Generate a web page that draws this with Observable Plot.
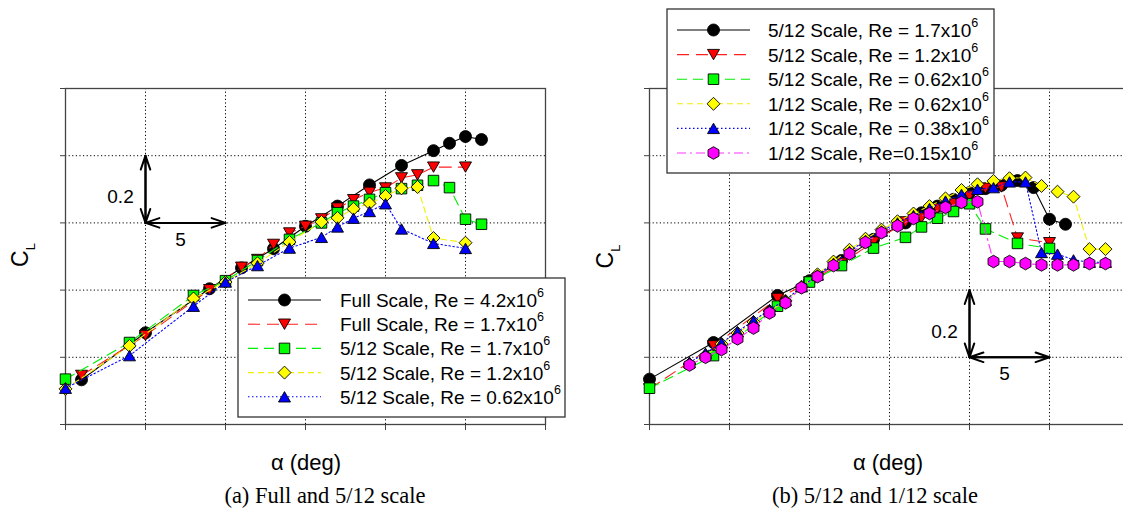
<!DOCTYPE html>
<html>
<head>
<meta charset="utf-8">
<script src="https://cdn.jsdelivr.net/npm/d3@7"></script>
<script src="https://cdn.jsdelivr.net/npm/@observablehq/plot@0.6"></script>
<style>
  html, body { margin: 0; padding: 0; background: #fff; overflow: hidden; }
  #wrap { position: relative; width: 1123px; height: 516px; overflow: hidden; background: #fff; }
  #wrap svg { position: absolute; top: 0; }
</style>
</head>
<body>
<div id="wrap"></div>
<script>
// Lift coefficient C_L against angle of attack α (deg)

// Full scale, Re = 4.2x10^6
const alphaFull42 = [-4, 0, 4, 6, 8, 10, 12, 14, 16, 18, 19, 20, 21];
const clFull42    = [0.133, 0.273, 0.404, 0.466, 0.523, 0.590, 0.650, 0.713, 0.771, 0.815, 0.837, 0.857, 0.848];

// Full scale, Re = 1.7x10^6
const alphaFull17 = [-4, 0, 4, 6, 7, 8, 9, 10, 11, 12, 13, 14, 15, 16, 17, 18, 20];
const clFull17    = [0.146, 0.265, 0.401, 0.468, 0.491, 0.536, 0.570, 0.590, 0.612, 0.644, 0.669, 0.691, 0.704, 0.734, 0.743, 0.766, 0.766];

// 5/12 scale, Re = 1.7x10^6
const alpha512_17 = [-5, -1, 3, 5, 7, 9, 11, 12, 13, 14, 15, 16, 17, 18, 19, 20, 21];
const cl512_17    = [0.135, 0.244, 0.384, 0.428, 0.488, 0.551, 0.600, 0.630, 0.650, 0.670, 0.690, 0.702, 0.712, 0.726, 0.705, 0.611, 0.596];

// 5/12 scale, Re = 1.2x10^6
const alpha512_12 = [-5, -1, 3, 5, 7, 9, 11, 12, 13, 14, 15, 16, 17, 18, 20];
const cl512_12    = [0.106, 0.234, 0.375, 0.424, 0.480, 0.543, 0.603, 0.615, 0.642, 0.658, 0.680, 0.703, 0.707, 0.555, 0.541];

// 5/12 scale, Re = 0.62x10^6
const alpha512_062 = [-5, -1, 3, 5, 7, 9, 11, 12, 13, 14, 15, 16, 18, 20];
const cl512_062    = [0.108, 0.205, 0.352, 0.424, 0.473, 0.525, 0.557, 0.588, 0.614, 0.634, 0.657, 0.582, 0.539, 0.524];

// 1/12 scale runs share one α schedule
const alpha112 = [-2.5, -1.5, -0.5, 0.5, 1.5, 2.5, 3.5, 4.5, 5.5, 6.5, 7.5, 8.5, 9.5, 10.5, 11.5, 12.5, 13.5, 14.5, 15.5, 16.5, 17.5, 18.5, 19.5, 20.5, 21.5, 22.5, 23.5];
// 1/12 scale, Re = 0.62x10^6
const cl112_062 = [0.180, 0.205, 0.240, 0.272, 0.305, 0.338, 0.368, 0.410, 0.447, 0.485, 0.520, 0.553, 0.580, 0.605, 0.628, 0.650, 0.673, 0.698, 0.715, 0.725, 0.733, 0.735, 0.710, 0.693, 0.678, 0.522, 0.522];
// 1/12 scale, Re = 0.38x10^6
const cl112_038 = [0.185, 0.212, 0.243, 0.276, 0.309, 0.342, 0.370, 0.410, 0.445, 0.480, 0.515, 0.548, 0.576, 0.600, 0.622, 0.643, 0.665, 0.685, 0.700, 0.705, 0.722, 0.722, 0.512, 0.507, 0.490, 0.483, 0.483];
// 1/12 scale, Re = 0.15x10^6
const cl112_015 = [0.177, 0.200, 0.223, 0.255, 0.287, 0.332, 0.362, 0.407, 0.440, 0.473, 0.508, 0.542, 0.571, 0.591, 0.613, 0.628, 0.646, 0.661, 0.663, 0.485, 0.485, 0.479, 0.475, 0.475, 0.475, 0.479, 0.479];

// Legend texts (mantissa of Re; the exponent 6 is set as a superscript)
const legendLeft = [
  "Full Scale, Re = 4.2x10", "Full Scale, Re = 1.7x10", "5/12 Scale, Re = 1.7x10",
  "5/12 Scale, Re = 1.2x10", "5/12 Scale, Re = 0.62x10"
];
const legendRight = [
  "5/12 Scale, Re = 1.7x10", "5/12 Scale, Re = 1.2x10", "5/12 Scale, Re = 0.62x10",
  "1/12 Scale, Re = 0.62x10", "1/12 Scale, Re = 0.38x10", "1/12 Scale, Re=0.15x10"
];
const reExponent = "6";

// Grid positions (no numeric tick labels: the scale bars give the units)
const alphaTicks = [-5, 0, 5, 10, 15, 20, 25];
const clTicks = [0, 0.2, 0.4, 0.6, 0.8, 1.0];

// Scale bars: corner (α, C_L) and lengths
const barLeft  = {alpha: 0,  cl: 0.6, dAlpha: 5, dCl: 0.2};
const barRight = {alpha: 15, cl: 0.2, dAlpha: 5, dCl: 0.2};

const sans = "'Liberation Sans', Arial, Helvetica, sans-serif";
const serif = "'Liberation Serif', 'Times New Roman', Times, serif";

// Marker shapes; size is π r²
function mkSym(draw) {
  return {draw(ctx, size) { draw(ctx, Math.sqrt(size / Math.PI)); }};
}
const symCircle = mkSym((c, r) => { c.moveTo(r, 0); c.arc(0, 0, r, 0, 2 * Math.PI); });
const symTriDown = mkSym((c, r) => {
  const h = r * Math.sqrt(3) / 2;
  c.moveTo(-r, -h); c.lineTo(r, -h); c.lineTo(0, h); c.closePath();
});
const symTriUp = mkSym((c, r) => {
  const h = r * Math.sqrt(3) / 2;
  c.moveTo(-r, h); c.lineTo(r, h); c.lineTo(0, -h); c.closePath();
});
const symSquare = mkSym((c, r) => { const s = r * 0.88; c.rect(-s, -s, 2 * s, 2 * s); });
const symDiamond = mkSym((c, r) => {
  const d = r * 1.08;
  c.moveTo(0, -d); c.lineTo(d, 0); c.lineTo(0, d); c.lineTo(-d, 0); c.closePath();
});
const symHex = mkSym((c, r) => {
  const R = r * 1.05;
  for (let k = 0; k < 6; k++) {
    const t = (-90 + 60 * k) * Math.PI / 180;
    if (k) c.lineTo(R * Math.cos(t), R * Math.sin(t)); else c.moveTo(R * Math.cos(t), R * Math.sin(t));
  }
  c.closePath();
});

// Line/marker style by position within a panel
const styles = [
  {color: "#000000", line: "#000000", dash: undefined,   sym: symCircle},
  {color: "#ff0000", line: "#ff2020", dash: "12,7",      sym: symTriDown},
  {color: "#00ff00", line: "#00ee00", dash: "10,6",      sym: symSquare},
  {color: "#ffff00", line: "#f0f000", dash: "6,4",       sym: symDiamond},
  {color: "#0000ff", line: "#0000ff", dash: "1.5,2.5",   sym: symTriUp},
  {color: "#ff00ff", line: "#ff33ff", dash: "9,4,2,4",   sym: symHex}
];
const markerR = 6;

function rowsOf(alpha, cl) { return alpha.map((a, i) => ({alpha: a, cl: cl[i]})); }

function panel({series, width, offsetX, marginLeft, marginRight, bar, legend, legendBox, yLabelX, yLabelY, xLabelX, caption, captionX}) {
  const dotted = {stroke: "#000", strokeOpacity: 1, strokeWidth: 1, strokeDasharray: "1.2,2.4"};
  const marks = [
    Plot.gridX(alphaTicks, dotted),
    Plot.gridY(clTicks, dotted),
    Plot.axisX(alphaTicks, {anchor: "bottom", tickSize: 6, tickFormat: () => "", label: null, stroke: "#444"}),
    Plot.axisY(clTicks, {anchor: "left", tickSize: 5, tickFormat: () => "", label: null, stroke: "#444"}),
    Plot.frame({stroke: "#444", strokeWidth: 1.3})
  ];
  series.forEach((s, i) => {
    const st = styles[i];
    const rows = rowsOf(s.alpha, s.cl);
    marks.push(Plot.line(rows, {x: "alpha", y: "cl", stroke: st.line, strokeWidth: 1.1, strokeDasharray: st.dash}));
    marks.push(Plot.dot(rows, {x: "alpha", y: "cl", symbol: st.sym, r: markerR, fill: st.color, stroke: "#000", strokeWidth: 0.9}));
  });
  // double-headed scale-bar arrows
  const a = bar.alpha, c = bar.cl, da = bar.dAlpha, dc = bar.dCl;
  const arrows = [
    {x1: a, y1: c, x2: a, y2: c + dc}, {x1: a, y1: c + dc, x2: a, y2: c},
    {x1: a, y1: c, x2: a + da, y2: c}, {x1: a + da, y1: c, x2: a, y2: c}
  ];
  marks.push(Plot.arrow(arrows, {x1: "x1", y1: "y1", x2: "x2", y2: "y2", stroke: "#000", strokeWidth: 2, headLength: 11, headAngle: 38}));
  marks.push(Plot.text([{x: a, y: c + dc / 2, t: String(dc)}], {x: "x", y: "y", text: "t", dx: -25, dy: 8, fontSize: 19, fill: "#000", fontFamily: sans}));
  marks.push(Plot.text([{x: a + da / 2, y: c, t: String(da)}], {x: "x", y: "y", text: "t", dx: -5, dy: 17, fontSize: 19, fill: "#000", fontFamily: sans}));

  const svg = Plot.plot({
    width, height: 516,
    marginLeft, marginRight, marginTop: 88, marginBottom: 92,
    x: {domain: [-5, 25]},
    y: {domain: [0, 1]},
    style: {fontFamily: sans, background: "transparent", overflow: "visible"},
    marks
  });
  svg.style.left = offsetX + "px";
  const g = d3.select(svg);

  // legend
  const L = legendBox;
  const lg = g.append("g").attr("text-anchor", "start");
  lg.append("rect")
    .attr("x", L.x - offsetX).attr("y", L.y).attr("width", L.w).attr("height", L.h)
    .attr("fill", "#fff").attr("stroke", "#333").attr("stroke-width", 1.3);
  legend.forEach((label, i) => {
    const st = styles[i];
    const cy = L.row0 + i * L.dy;
    lg.append("line")
      .attr("x1", L.lx1 - offsetX).attr("x2", L.lx2 - offsetX).attr("y1", cy).attr("y2", cy)
      .attr("stroke", st.line).attr("stroke-width", 1.1).attr("stroke-dasharray", st.dash || null);
    lg.append("path")
      .attr("transform", `translate(${(L.lx1 + L.lx2) / 2 - offsetX},${cy})`)
      .attr("d", d3.symbol(st.sym, Math.PI * markerR * markerR)())
      .attr("fill", st.color).attr("stroke", "#000").attr("stroke-width", 0.9);
    const t = lg.append("text")
      .attr("x", L.tx - offsetX).attr("y", cy + 7)
      .attr("text-anchor", "start")
      .attr("font-family", sans).attr("font-size", 19).attr("fill", "#000");
    t.append("tspan").text(label);
    t.append("tspan").attr("dy", -10).attr("font-size", 12.5).text(reExponent);
  });

  // axis titles and caption
  const yl = g.append("text")
    .attr("transform", `translate(${yLabelX - offsetX},${yLabelY}) rotate(-90)`)
    .attr("text-anchor", "middle").attr("font-family", sans).attr("font-size", 23).attr("fill", "#000");
  yl.append("tspan").text("C");
  yl.append("tspan").attr("dy", 7).attr("font-size", 13).text("L");

  g.append("text")
    .attr("x", xLabelX - offsetX).attr("y", 470)
    .attr("text-anchor", "middle").attr("font-family", sans).attr("font-size", 22).attr("fill", "#000")
    .text("α (deg)");

  g.append("text")
    .attr("x", captionX - offsetX).attr("y", 503)
    .attr("text-anchor", "middle").attr("font-family", serif).attr("font-size", 22.5).attr("fill", "#000")
    .text(caption);

  return svg;
}

const wrap = document.getElementById("wrap");

wrap.appendChild(panel({
  series: [
    {alpha: alphaFull42, cl: clFull42},
    {alpha: alphaFull17, cl: clFull17},
    {alpha: alpha512_17, cl: cl512_17},
    {alpha: alpha512_12, cl: cl512_12},
    {alpha: alpha512_062, cl: cl512_062}
  ],
  width: 600, offsetX: 0, marginLeft: 65, marginRight: 55,
  bar: barLeft,
  legend: legendLeft,
  legendBox: {x: 238, y: 278, w: 327, h: 139, row0: 300, dy: 24.2, lx1: 248, lx2: 321, tx: 340},
  yLabelX: 28, yLabelY: 255, xLabelX: 306,
  caption: "(a) Full and 5/12 scale", captionX: 325
}));

wrap.appendChild(panel({
  series: [
    {alpha: alpha512_17, cl: cl512_17},
    {alpha: alpha512_12, cl: cl512_12},
    {alpha: alpha512_062, cl: cl512_062},
    {alpha: alpha112, cl: cl112_062},
    {alpha: alpha112, cl: cl112_038},
    {alpha: alpha112, cl: cl112_015}
  ],
  width: 560, offsetX: 580, marginLeft: 69, marginRight: 11,
  bar: barRight,
  legend: legendRight,
  legendBox: {x: 667, y: 9, w: 327, h: 164, row0: 30, dy: 24.6, lx1: 677, lx2: 750, tx: 768},
  yLabelX: 613, yLabelY: 256.5, xLabelX: 888,
  caption: "(b) 5/12 and 1/12 scale", captionX: 875
}));
</script>
</body>
</html>
